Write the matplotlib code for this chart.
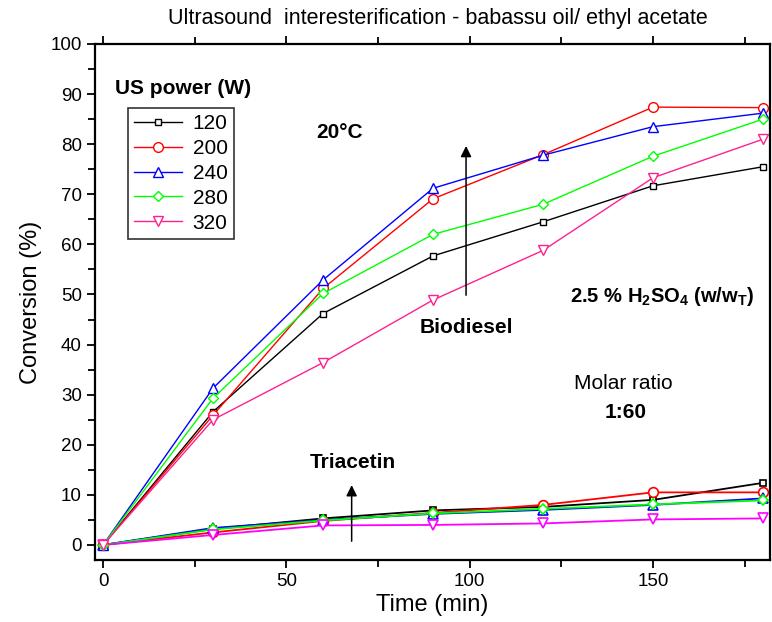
import matplotlib.pyplot as plt
import numpy as np

plt.rcParams['font.family'] = ['Liberation Sans', 'DejaVu Sans']
plt.rcParams['mathtext.fontset'] = 'custom'
plt.rcParams['mathtext.rm'] = 'Liberation Sans'
plt.rcParams['mathtext.bf'] = 'Liberation Sans:bold'

# data
time = [0, 30, 60, 90, 120, 150, 180]
powers = ['120', '200', '240', '280', '320']

biodiesel = {
    '120': [0, 26.6, 46.2, 57.7, 64.5, 71.7, 75.5],
    '200': [0, 25.9, 51.2, 69.1, 77.9, 87.4, 87.3],
    '240': [0, 31.3, 52.9, 71.2, 77.8, 83.5, 86.2],
    '280': [0, 29.3, 50.2, 62.0, 68.0, 77.6, 85.0],
    '320': [0, 25.0, 36.4, 48.9, 58.8, 73.3, 81.0],
}
triacetin = {
    '120': [0, 3.2, 5.3, 6.9, 7.6, 9.0, 12.4],
    '200': [0, 2.5, 4.8, 6.4, 8.0, 10.5, 10.5],
    '240': [0, 3.4, 5.0, 6.2, 7.0, 8.0, 9.3],
    '280': [0, 3.1, 4.9, 6.3, 7.2, 8.1, 8.9],
    '320': [0, 2.0, 3.9, 4.0, 4.3, 5.1, 5.3],
}

colors_bd = {'120': 'black', '200': '#ff0000', '240': '#0000ff', '280': '#00ff00', '320': '#ff2090'}
colors_tr = {'120': 'black', '200': '#ff0000', '240': '#0000ff', '280': '#00ff00', '320': '#ff00ff'}
markers = {'120': 's', '200': 'o', '240': '^', '280': 'D', '320': 'v'}
msize = {'120': 5, '200': 7, '240': 6.5, '280': 5.5, '320': 6.5}

fig = plt.figure(figsize=(7.72, 6.22), dpi=100)
ax = fig.add_axes([95 / 772, 1 - 560 / 622, 675 / 772, 516 / 622])

for p in powers:
    ax.plot(time, triacetin[p], color=colors_tr[p], marker=markers[p], ms=msize[p],
            mfc='white', mec=colors_tr[p], lw=1.3, mew=1.2)
for p in powers:
    ax.plot(time, biodiesel[p], color=colors_bd[p], marker=markers[p], ms=msize[p],
            mfc='white', mec=colors_bd[p], lw=1.0, mew=1.0, label=p)

ax.set_xlim(-2.2, 181.9)
ax.set_ylim(-3, 100)
ax.set_xticks([0, 50, 100, 150])
ax.set_xticks(np.arange(25, 181, 50), minor=True)
ax.set_yticks(np.arange(0, 101, 10))
ax.set_yticks(np.arange(5, 100, 10), minor=True)
ax.tick_params(axis='both', which='both', direction='out', labelsize=13.5, width=1.3)
ax.tick_params(which='major', length=6)
ax.tick_params(which='minor', length=5)
ax.tick_params(axis='x', which='both', top=True)
for s in ax.spines.values():
    s.set_linewidth(1.6)

ax.set_xlabel('Time (min)', fontsize=17, labelpad=3)
ax.set_ylabel('Conversion (%)', fontsize=17, labelpad=6)

fig.text(0.567, 0.971, 'Ultrasound  interesterification - babassu oil/ ethyl acetate',
         ha='center', va='center', fontsize=15.5)

leg = ax.legend(loc='upper left', bbox_to_anchor=(0.049, 0.876), borderaxespad=0,
                fontsize=15, frameon=True, fancybox=False, edgecolor='#333333',
                framealpha=1, handlelength=2.3, labelspacing=0.28, borderpad=0.3,
                handletextpad=0.5)
leg.get_frame().set_linewidth(1.2)

ax.text(3.3, 91.2, 'US power (W)', fontsize=15, fontweight='bold', va='center')
ax.text(70.9, 82.4, '20°C', fontsize=15, fontweight='bold', ha='right', va='center')
ax.annotate('', xy=(99, 80.2), xytext=(99, 49.3),
            arrowprops=dict(arrowstyle='-|>', color='black', lw=1.1, mutation_scale=16))
ax.text(99, 43.5, 'Biodiesel', fontsize=15, fontweight='bold', ha='center', va='center')
ax.text(152.5, 49.5, r'2.5 % H$_\mathbf{2}$SO$_\mathbf{4}$ (w/w$_\mathbf{T}$)',
        fontsize=14.5, fontweight='bold', ha='center', va='center')
ax.text(142, 32.3, 'Molar ratio', fontsize=15, ha='center', va='center')
ax.text(142.5, 26.5, '1:60', fontsize=15, fontweight='bold', ha='center', va='center')
ax.annotate('', xy=(67.8, 12.5), xytext=(67.8, 0.2),
            arrowprops=dict(arrowstyle='-|>', color='black', lw=1.1, mutation_scale=16))
ax.text(68, 16.5, 'Triacetin', fontsize=15, fontweight='bold', ha='center', va='center')

fig.savefig('out.png', dpi=100)
